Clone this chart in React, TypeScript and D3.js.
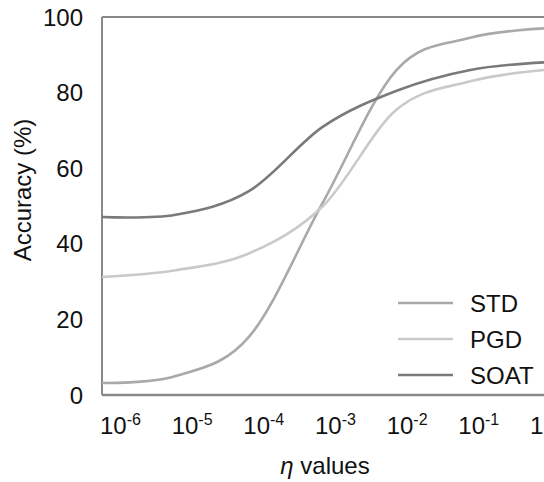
import React from 'react';
import * as d3 from 'd3';

// eta exponents (10^e) and accuracy values
const exponents = [-6, -5, -4, -3, -2, -1, 0];
const stdValues = [3.2, 5, 15.5, 51, 86, 94.5, 97];
const pgdValues = [31.2, 33, 37.5, 50, 75.5, 83, 86];
const soatValues = [47.1, 47.7, 54, 71, 80.5, 86, 88];
const yTicks = [0, 20, 40, 60, 80, 100];
const xLabels = ['-6', '-5', '-4', '-3', '-2', '-1', ''];

const series = [
  {name: 'STD', values: stdValues, color: '#a9a9a9'},
  {name: 'PGD', values: pgdValues, color: '#cacaca'},
  {name: 'SOAT', values: soatValues, color: '#7a7a7a'},
];

const width = 544;
const height = 482;
const margin = {top: 17, right: 0, bottom: 87, left: 102};
const font = '"Liberation Sans", Arial, sans-serif';

export default function App() {
  const x = d3.scaleLinear().domain([-6, 0]).range([margin.left, width - margin.right]);
  const y = d3.scaleLinear().domain([0, 100]).range([height - margin.bottom, margin.top]);
  // label positions (left edge of each label)
  const labelX = d3.scalePoint<number>().domain(exponents).range([100, 530]);

  const line = (vals: number[]) =>
    d3.line<number>()
      .x((_, i) => x(exponents[i]))
      .y(d => y(d))
      .curve(d3.curveCardinal.tension(0))(vals) || '';

  const axisColor = '#898989';

  return (
    <svg width={width} height={height} style={{position: 'absolute', left: 0, top: 0, background: '#fff'}}
         fontFamily={font}>
      {/* plot border */}
      <line x1={margin.left} x2={width} y1={y(100)} y2={y(100)} stroke={axisColor} strokeWidth={2}/>
      <line x1={margin.left} x2={margin.left} y1={y(100)} y2={y(0)} stroke={axisColor} strokeWidth={2}/>

      {series.map(s => (
        <path key={s.name} d={line(s.values)} fill="none" stroke={s.color} strokeWidth={2.6}/>
      ))}

      <line x1={margin.left} x2={width} y1={y(0)} y2={y(0)} stroke={axisColor} strokeWidth={2.5}/>

      {yTicks.map(t => (
        <text key={t} x={83} y={y(t)} dy="0.36em" textAnchor="end" fontSize={24} fill="#111">{t}</text>
      ))}

      {exponents.map((e, i) => (
        <text key={e} x={labelX(e)} y={434} fontSize={24} fill="#111">
          {xLabels[i] ? '10' : '1'}
          {xLabels[i] && <tspan dy={-9} fontSize={16}>{xLabels[i]}</tspan>}
        </text>
      ))}

      <text transform={`translate(31, 190) rotate(-90)`} textAnchor="middle" fontSize={24} fill="#111">
        Accuracy (%)
      </text>

      <text x={325} y={474} textAnchor="middle" fontSize={24} fill="#111">
        <tspan fontStyle="italic">η</tspan> values
      </text>

      {series.map((s, i) => (
        <g key={s.name} transform={`translate(398, ${303 + i * 36})`}>
          <line x1={0} x2={55} y1={0} y2={0} stroke={s.color} strokeWidth={2.6}/>
          <text x={72} y={0} dy="0.36em" fontSize={24} fill="#111">{s.name}</text>
        </g>
      ))}
    </svg>
  );
}
